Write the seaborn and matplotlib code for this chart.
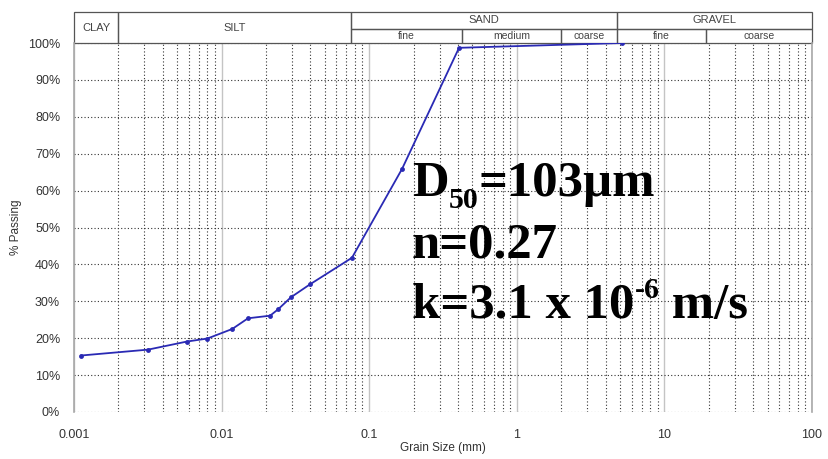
import numpy as np
import pandas as pd
import matplotlib
matplotlib.use("Agg")
import matplotlib.pyplot as plt
import matplotlib.ticker as mticker
import matplotlib.transforms as mtransforms
from matplotlib.patches import Rectangle
import seaborn as sns

# ---- data ----
grain_mm = [0.00111, 0.00317, 0.00583, 0.0080, 0.0118, 0.0151, 0.0213, 0.0241,
            0.0295, 0.0397, 0.0764, 0.167, 0.406, 5.16]
passing = [15.3, 16.9, 19.1, 19.9, 22.5, 25.4, 26.1, 27.8, 31.1, 34.6, 41.8, 65.9, 98.7, 100.0]

y_ticks = [0, 10, 20, 30, 40, 50, 60, 70, 80, 90, 100]
x_ticks = [0.001, 0.01, 0.1, 1, 10, 100]
x_tick_labels = ["0.001", "0.01", "0.1", "1", "10", "100"]

# soil classification header
main_classes = ["CLAY", "SILT", "SAND", "GRAVEL"]
main_bounds = [(0.001, 0.002), (0.002, 0.075), (0.075, 4.75), (4.75, 100)]
sub_classes = ["fine", "medium", "coarse", "fine", "coarse"]
sub_bounds = [(0.075, 0.425), (0.425, 2.0), (2.0, 4.75), (4.75, 19.0), (19.0, 100)]

# annotation text runs: (text, kind) kind: 0 normal, -1 subscript, +1 superscript
annot_line1 = [("D", 0), ("50", -1), ("=103µm", 0)]
annot_line2 = [("n=0.27", 0)]
annot_line3 = [("k=3.1 x 10", 0), ("-6", 1), (" m/s", 0)]

# ---- style ----
sns.set_style("white")
plt.rcParams["font.family"] = ["Liberation Sans", "DejaVu Sans"]

fig = plt.figure(figsize=(8.29, 4.59), dpi=100)
ax = fig.add_axes([0.0893, 0.1024, 0.8902, 0.8039])

df = pd.DataFrame({"grain": grain_mm, "passing": passing})
sns.lineplot(data=df, x="grain", y="passing", ax=ax, color="#2a2ab4", lw=1.3,
             marker="o", markersize=3.5, markeredgewidth=0, sort=False)

ax.set_xscale("log")
ax.set_xlim(0.001, 100)
ax.set_ylim(0, 100)

# grid
ax.xaxis.set_major_locator(mticker.FixedLocator(x_ticks))
ax.xaxis.set_minor_locator(mticker.LogLocator(base=10, subs=np.arange(2, 10)))
ax.xaxis.set_minor_formatter(mticker.NullFormatter())
ax.set_xticklabels(x_tick_labels)
ax.set_yticks(y_ticks)
ax.set_yticklabels([f"{v}%" for v in y_ticks])
ax.grid(which="major", axis="x", color="#c4c4c4", lw=1.0, ls="-")
ax.grid(which="minor", axis="x", color="#333333", lw=0.8, ls=(0, (1, 2)))
ax.grid(which="major", axis="y", color="#333333", lw=0.8, ls=(0, (1, 2)))
ax.set_axisbelow(True)

for s in ["top", "bottom"]:
    ax.spines[s].set_visible(False)
for s in ["left", "right"]:
    ax.spines[s].set_color("#a8a8a8")
    ax.spines[s].set_linewidth(1.2)

ax.tick_params(axis="y", which="major", length=4, color="#888888", pad=6,
               labelsize=9, labelcolor="#333333")
ax.tick_params(axis="x", which="major", length=0, pad=12,
               labelsize=9, labelcolor="#333333")
ax.tick_params(axis="x", which="minor", length=0)

ax.set_xlabel("Grain Size (mm)", fontsize=8.5, color="#333333", labelpad=1)
ax.set_ylabel("% Passing", fontsize=8.5, color="#333333", labelpad=4)

# header boxes
trans = ax.get_xaxis_transform()
y0, ymid, ytop = 1.0, 1.038, 1.084
box_kw = dict(transform=trans, clip_on=False, fill=False, ec="#555555", lw=0.9)
for name, (a, b) in zip(main_classes, main_bounds):
    if name in ("CLAY", "SILT"):
        ax.add_patch(Rectangle((a, y0), b - a, ytop - y0, **box_kw))
        ax.text(np.sqrt(a * b), (y0 + ytop) / 2, name, transform=trans,
                ha="center", va="center", fontsize=8, color="#444444")
    else:
        ax.add_patch(Rectangle((a, ymid), b - a, ytop - ymid, **box_kw))
        ax.text(np.sqrt(a * b), (ymid + ytop) / 2, name, transform=trans,
                ha="center", va="center", fontsize=8, color="#444444")
for name, (a, b) in zip(sub_classes, sub_bounds):
    ax.add_patch(Rectangle((a, y0), b - a, ymid - y0, **box_kw))
    ax.text(np.sqrt(a * b), (y0 + ymid) / 2, name, transform=trans,
            ha="center", va="center", fontsize=7.5, color="#444444")

# annotation, composed run by run
fig.canvas.draw()
renderer = fig.canvas.get_renderer()
MAIN, SMALL = 36.5, 21.5
kind_style = {0: (MAIN, 0.0), -1: (SMALL, -8.6), 1: (SMALL, 14.5)}


def draw_runs(x, y, runs):
    off = 0.0
    for txt, kind in runs:
        size, dy = kind_style[kind]
        tr = mtransforms.offset_copy(ax.transData, fig=fig, x=off, y=dy, units="points")
        t = ax.text(x, y, txt, transform=tr, fontsize=size, fontweight="bold",
                    family="Liberation Serif", color="black",
                    va="baseline", ha="left")
        bb = t.get_window_extent(renderer)
        off += bb.width * 72.0 / fig.dpi


ann_x = 0.195
draw_runs(ann_x, 58.5, annot_line1)
draw_runs(ann_x, 42.0, annot_line2)
draw_runs(ann_x, 25.5, annot_line3)

fig.savefig("out.png", dpi=100)
